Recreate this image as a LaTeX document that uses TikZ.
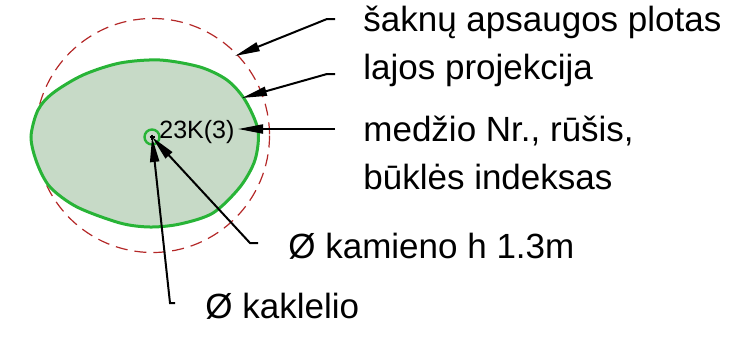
\documentclass[tikz,border=0pt]{standalone}
\usepackage{fontspec}
\setmainfont{Liberation Sans}
\usepackage{xcolor}
\usepackage{tikz}
\usetikzlibrary{positioning, arrows.meta, calc}

\definecolor{crownfill}{RGB}{199,218,199}
\definecolor{crownline}{RGB}{40,180,55}
\definecolor{zoneline}{RGB}{180,40,40}

\begin{document}
\begin{tikzpicture}[x=0.5pt, y=-0.5pt,
  lbl/.style={anchor=base west, inner sep=0pt, font=\fontsize{17.5}{24}\selectfont, align=left},
  tag/.style={anchor=base west, inner sep=0pt, font=\fontsize{12.5}{14}\selectfont},
  arr/.style={-{Triangle[length=12.5pt, width=4.5pt]}, line width=1pt},
  zone/.style={draw=zoneline, line width=0.6pt, dash pattern=on 6pt off 3.5pt},
  crown/.style={draw=crownline, fill=crownfill, line width=1.5pt},
  stem/.style={circle, draw=crownline, line width=1.2pt, minimum size=7.5pt, inner sep=0pt},
]
\useasboundingbox (0,0) rectangle (732,338);

% --- Root zone and crown ---
\draw[zone] (152.5,135.5) circle[radius=117];
\draw[crown] plot[smooth cycle] coordinates {(31,137) (38,110) (53,93) (83,75) (120,63) (160,60) (200,67) (227,80) (245,100) (258,130) (255,160) (240,187) (213,213) (180,224) (150,227) (120,223) (77,207) (50,187) (37,163)};

% --- Tree ---
\node[stem] (tree) at (152,137) {};
\draw[line width=0.7pt] (tree.center) +(-2.5,0) -- +(2.5,0) (tree.center) +(0,-2.5) -- +(0,2.5);
\node[tag] (num) at (159,138) {23K(3)};

% --- Labels ---
\node[lbl] (zoneL) at (363,31) {šaknų apsaugos plotas};
\node[lbl] (crownL) at (363,79) {lajos projekcija};
\node[lbl] (infoL) at (363,189) {medžio Nr., rūšis,\\būklės indeksas};
\node[lbl] (trunkL) at (288,258) {Ø kamieno h 1.3m};
\node[lbl] (neckL) at (205,318) {Ø kaklelio};

% --- Leaders ---
\coordinate (z0) at (335,19);   \coordinate (z1) at (235,56);
\coordinate (c0) at (335,74);   \coordinate (c1) at (242,98);
\coordinate (i0) at (335,129);  \coordinate (i1) at (238,129);
\coordinate (t0) at (258,243);
\coordinate (n0) at (175,303);

\draw[arr] (z0) -- ++(-8,0) -- (z1);
\draw[arr] (c0) -- ++(-8,0) -- (c1);
\draw[arr] (i0) -- (i1);
\draw[arr] (t0) -- ++(-8,0) -- (tree.center);
\draw[arr] (n0) -- ++(-5,0) -- (tree.center);

\end{tikzpicture}
\end{document}
